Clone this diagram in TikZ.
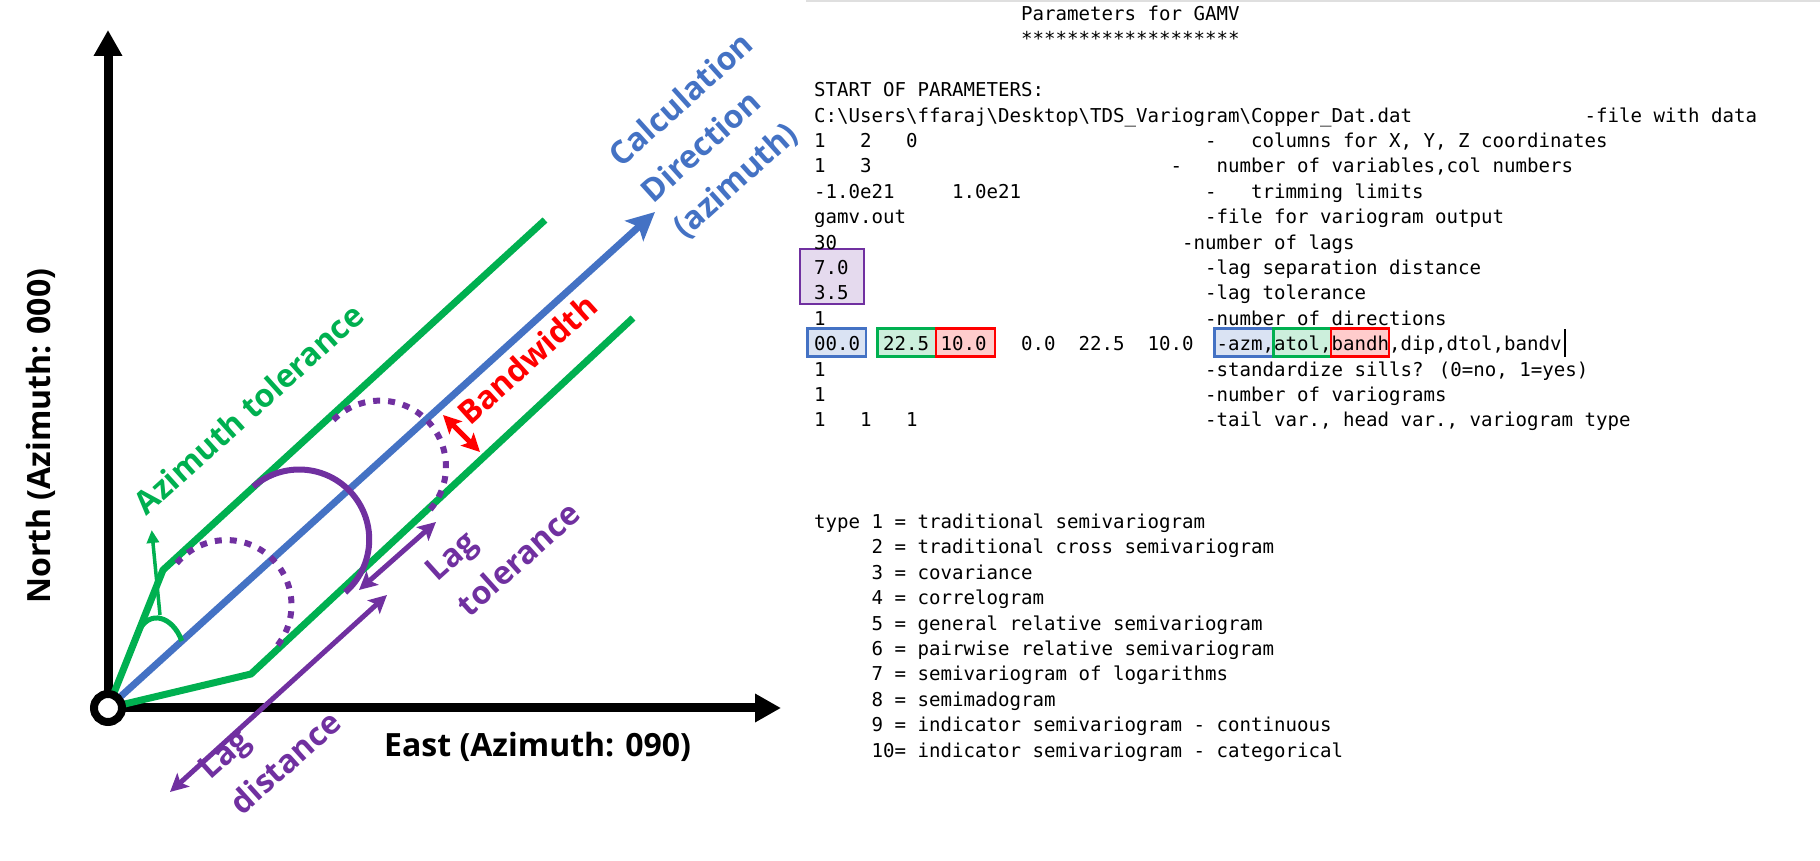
\documentclass[tikz,border=0pt]{standalone}
\usepackage{fontspec}
\setmainfont{Open Sans}
\newfontfamily\codefont{DejaVu Sans Mono}
\usetikzlibrary{arrows.meta}
\usetikzlibrary{calc}

\definecolor{AzBlue}{HTML}{4472C4}
\definecolor{TolGreen}{HTML}{00B050}
\definecolor{LagPurple}{HTML}{7030A0}
\definecolor{BandRed}{HTML}{FF0000}

\tikzset{
  compass/.style={line width=9pt, -{Triangle[length=26pt,width=27pt]}},
  cone/.style={TolGreen, line width=7pt},
  lagring/.style={LagPurple, line width=6pt},
  lagdots/.style={LagPurple, line width=6pt, dash pattern=on 7pt off 8pt},
  span/.style={line width=5pt, {Stealth[length=18pt,width=18pt,inset=4pt]}-{Stealth[length=18pt,width=18pt,inset=4pt]}},
  axislbl/.style={inner sep=0pt, anchor=base west, font=\fontsize{32}{48}\selectfont\bfseries},
  tag/.style={inner sep=0pt, font=\fontsize{32}{48}\selectfont\bfseries, rotate=42},
  code/.style={inner sep=0pt, anchor=base west, font=\codefont\fontsize{19.1}{25}\selectfont},
  hilite/.style={line width=2.5pt},
}

\begin{document}
\begin{tikzpicture}[x=1pt,y=1pt]
  \useasboundingbox (0,0) rectangle (1820,861);

  % axes
  \coordinate (O) at (108,153);
  \coordinate (N) at (108,831);
  \coordinate (E) at (781,153);
  \draw[compass] (O) -- (N);
  \draw[compass] (O) -- (E);
  \node[axislbl, rotate=90] (northlbl) at (50,257) {North (Azimuth: 000)};
  \node[axislbl] (eastlbl) at (384,104) {East (Azimuth: 090)};

  % search window
  \coordinate (cornerU) at (163,291);
  \coordinate (cornerL) at (251,187);
  \coordinate (endU) at (545,641);
  \coordinate (endL) at (633,543);
  \coordinate (dirtip) at (655,649);
  \draw[cone] (endU) -- (cornerU) -- (O) -- (cornerL) -- (endL);
  \draw[AzBlue, line width=7pt, -{Stealth[length=28pt,width=27pt,inset=6pt]}] (O) -- (dirtip);

  % azimuth tolerance mark
  \coordinate (atolA) at ($(O)!0.55!(cornerU)$);
  \coordinate (atolB) at ($(O)!0.135!(dirtip)$);
  \draw[TolGreen, line width=5pt] (atolA) to[out=65, in=110, looseness=1.5] (atolB);
  \coordinate (atolfoot) at (160,246);
  \coordinate (atolhead) at (151.7,331);
  \draw[TolGreen, line width=3.5pt, -{Triangle[length=13pt,width=12pt]}] (atolfoot) -- (atolhead);

  % lag bins
  \draw[lagdots] (176.7,297.7) arc[start angle=140, end angle=-40, radius=65];
  \draw[lagring] (253.3,374.3) arc[start angle=131, end angle=-49, radius=70];
  \draw[lagdots] (333.3,441) arc[start angle=135, end angle=-45, radius=66];

  % dimension arrows
  \coordinate (lagA) at (170,69);
  \coordinate (lagB) at (387,266);
  \draw[span, LagPurple] (lagA) -- (lagB);
  \coordinate (tolA) at (359,271);
  \coordinate (tolB) at (436,339);
  \draw[span, LagPurple] (tolA) -- (tolB);
  \coordinate (bwA) at (443,446);
  \coordinate (bwB) at (480,409);
  \draw[span, BandRed] (bwA) -- (bwB);

  % labels
  \node[tag, TolGreen, anchor=base west] (atollbl) at (146.7,344.3) {Azimuth tolerance};
  \node[tag, BandRed, anchor=base west] (bwlbl) at (470,434.3) {Bandwidth};
  \node[tag, AzBlue, anchor=west, align=left] (dirlbl) at (647,664) {Calculation\\Direction\\(azimuth)};
  \node[tag, LagPurple, anchor=west, align=left] (tollbl) at (446,269) {Lag\\tolerance};
  \node[tag, LagPurple, anchor=west, align=left] (laglbl) at (219,71) {Lag\\distance};

  \node[circle, draw, fill=white, line width=8pt, minimum size=28pt, inner sep=0pt] (orig) at (O) {};

  % parameter file
  \draw[gray!25, line width=1.5pt] (806,860) -- (1820,860);
  \draw[hilite, draw=LagPurple, fill=LagPurple!18] (800,557) rectangle (864,612);
  \draw[hilite, draw=AzBlue, fill=AzBlue!20] (807.6,504.3) rectangle (866.1,532.7);
  \draw[hilite, draw=TolGreen, fill=TolGreen!20] (877.6,504.3) rectangle (935.8,532.7);
  \draw[hilite, draw=BandRed, fill=BandRed!20] (936.1,504.3) rectangle (995,532.7);
  \draw[hilite, draw=AzBlue, fill=AzBlue!20] (1214.4,504.3) rectangle (1273.7,532.7);
  \draw[hilite, draw=TolGreen, fill=TolGreen!20] (1273.7,504.3) rectangle (1331.1,532.7);
  \draw[hilite, draw=BandRed, fill=BandRed!20] (1331.1,504.3) rectangle (1388.8,532.7);

  \node[code] (title) at (1021,840.5) {Parameters for GAMV};
  \node[code] (stars) at (1021,815.1) {*******************};
  \node[code] (start) at (814,764.3) {START OF PARAMETERS:};
  \foreach \k/\val/\c/\txt in {
    1/{C:\textbackslash Users\textbackslash ffaraj\textbackslash Desktop\textbackslash TDS\_Variogram\textbackslash Copper\_Dat.dat}/67/{-file with data},
    2/{1~~~2~~~0}/34/{-~~~columns for X, Y, Z coordinates},
    3/{1~~~3}/31/{-~~~number of variables,col numbers},
    4/{-1.0e21~~~~~1.0e21}/34/{-~~~trimming limits},
    5/{gamv.out}/34/{-file for variogram output},
    6/{30}/32/{-number of lags},
    7/{7.0}/34/{-lag separation distance},
    8/{3.5}/34/{-lag tolerance},
    9/{1}/34/{-number of directions},
    10/{00.0~~22.5 10.0~~~0.0~~22.5~~10.0}/35/{-azm,atol,bandh,dip,dtol,bandv},
    11/{1}/34/{-standardize sills? (0=no, 1=yes)},
    12/{1}/34/{-number of variograms},
    13/{1~~~1~~~1}/34/{-tail var., head var., variogram type}}{
    \node[code] (val\k) at (814,{764.3-25.4*\k}) {\val};
    \node[code] (cmt\k) at ({814+11.5*\c},{764.3-25.4*\k}) {\txt};
  }
  \draw[line width=1.5pt] (1565,504) -- (1565,532);

  \foreach \k/\txt in {
    17/{type 1 = traditional semivariogram},
    18/{~~~~~2 = traditional cross semivariogram},
    19/{~~~~~3 = covariance},
    20/{~~~~~4 = correlogram},
    21/{~~~~~5 = general relative semivariogram},
    22/{~~~~~6 = pairwise relative semivariogram},
    23/{~~~~~7 = semivariogram of logarithms},
    24/{~~~~~8 = semimadogram},
    25/{~~~~~9 = indicator semivariogram - continuous},
    26/{~~~~~10= indicator semivariogram - categorical}}{
    \node[code] (type\k) at (814,{764.3-25.4*\k}) {\txt};
  }
\end{tikzpicture}
\end{document}
